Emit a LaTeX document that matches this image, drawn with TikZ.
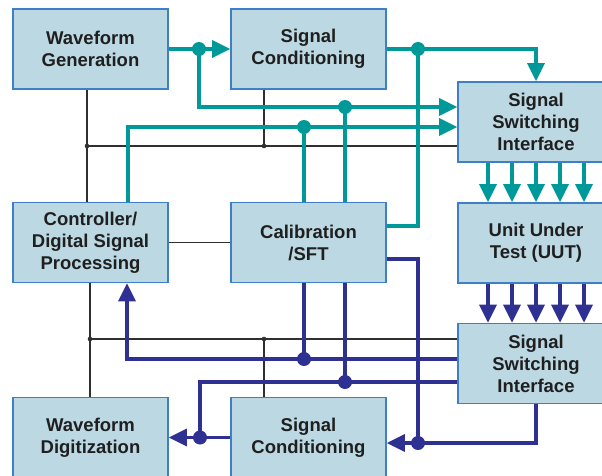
\documentclass[tikz,border=0pt]{standalone}
\usepackage{fontspec}
\setmainfont{Liberation Sans}
\usetikzlibrary{arrows.meta}
\definecolor{boxfill}{HTML}{BCD8E2}
\definecolor{boxline}{HTML}{3F7FC6}
\definecolor{tealc}{HTML}{00999A}
\definecolor{navy}{HTML}{2E3192}
\definecolor{blk}{HTML}{303030}
\begin{document}
\begin{tikzpicture}[x=1pt,y=-1pt,
  box/.style={draw=boxline, line width=1.6pt, fill=boxfill, minimum width=155pt,
    minimum height=80pt, inner sep=0pt, align=center,
    font=\fontsize{18.5}{22}\selectfont\bfseries, text=black!88},
  tl/.style={draw=tealc, line width=3.3pt},
  bl/.style={draw=navy, line width=3.3pt},
  kl/.style={draw=blk, line width=1.3pt},
  tip/.style={-{Triangle[length=18pt,width=17pt]}}
]
\fill[white] (0,0) rectangle (602,476);
\useasboundingbox (0,0) rectangle (602,476);

% boxes
\node[box] (wg) at (90.5,49) {Waveform\\Generation};
\node[box] (sc1) at (308.5,49) {Signal\\Conditioning};
\node[box, minimum width=156pt] (ssi1) at (536,122) {Signal\\Switching\\Interface};
\node[box] (ctl) at (90.5,242.5) {Controller/\\Digital Signal\\Processing};
\node[box] (cal) at (308.5,242.5) {Calibration\\/SFT};
\node[box, minimum width=156pt] (uut) at (536,243) {Unit Under\\Test (UUT)};
\node[box, minimum width=156pt] (ssi2) at (536,363.5) {Signal\\Switching\\Interface};
\node[box] (wd) at (90.5,437.5) {Waveform\\Digitization};
\node[box] (sc2) at (308.5,437.5) {Signal\\Conditioning};

% black control bus
\coordinate (ka) at (87,146);
\coordinate (kb) at (264,146);
\coordinate (kc) at (90,339);
\coordinate (kd) at (264,339);
\draw[kl] (ka |- wg.south) -- (ka |- ctl.north);
\draw[kl] (ka) -- (ka -| ssi1.west);
\draw[kl] (kb |- sc1.south) -- (kb);
\draw[kl] (ctl.east) -- (cal.west);
\draw[kl] (kc |- ctl.south) -- (kc |- wd.north);
\draw[kl] (kc) -- (kc -| ssi2.west);
\draw[kl] (kd) -- (kd |- sc2.north);
\foreach \p in {ka,kb,kc,kd} \fill[blk] (\p) circle (2.3pt);

% teal stimulus paths
\coordinate (ta) at (199,49);
\coordinate (tb) at (199,107);
\coordinate (tc) at (345,107);
\coordinate (td) at (128,127);
\coordinate (te) at (304,127);
\coordinate (tf) at (418,49);
\coordinate (tg) at (418,226);
\draw[tl,tip] (wg.east) -- (sc1.west);
\draw[tl,tip] (ta) -- (tb) -- (tb -| ssi1.west);
\draw[tl] (tc) -- (tc |- cal.north);
\draw[tl,tip] (td |- ctl.north) -- (td) -- (td -| ssi1.west);
\draw[tl] (te) -- (te |- cal.north);
\draw[tl,tip] (sc1.east) -| (ssi1.north);
\draw[tl] (tf) -- (tg) -- (tg -| cal.east);
\foreach \dx in {-48,-24,0,24,48}
  \draw[tl,tip] ([xshift=\dx pt]ssi1.south) -- ([xshift=\dx pt]uut.north);
\foreach \p in {ta,tc,te,tf} \fill[tealc] (\p) circle (7pt);

% navy measurement paths
\coordinate (ba) at (127,359);
\coordinate (bb) at (304,359);
\coordinate (bc) at (200,382);
\coordinate (bd) at (345,382);
\coordinate (be) at (200,437.5);
\coordinate (bf) at (418,259);
\coordinate (bg) at (418,443);
\draw[bl,tip] (ba -| ssi2.west) -- (ba) -- (ba |- ctl.south);
\draw[bl] (bb |- cal.south) -- (bb);
\draw[bl] (bc -| ssi2.west) -- (bc) -- (be);
\draw[bl] (bd |- cal.south) -- (bd);
\draw[bl,tip] (sc2.west) -- (wd.east);
\draw[bl] (bf -| cal.east) -- (bf) -- (bg);
\draw[bl,tip] (ssi2.south) |- (bg -| sc2.east);
\foreach \dx in {-48,-24,0,24,48}
  \draw[bl,tip] ([xshift=\dx pt]uut.south) -- ([xshift=\dx pt]ssi2.north);
\foreach \p in {bb,bd,be,bg} \fill[navy] (\p) circle (7pt);
\end{tikzpicture}
\end{document}
